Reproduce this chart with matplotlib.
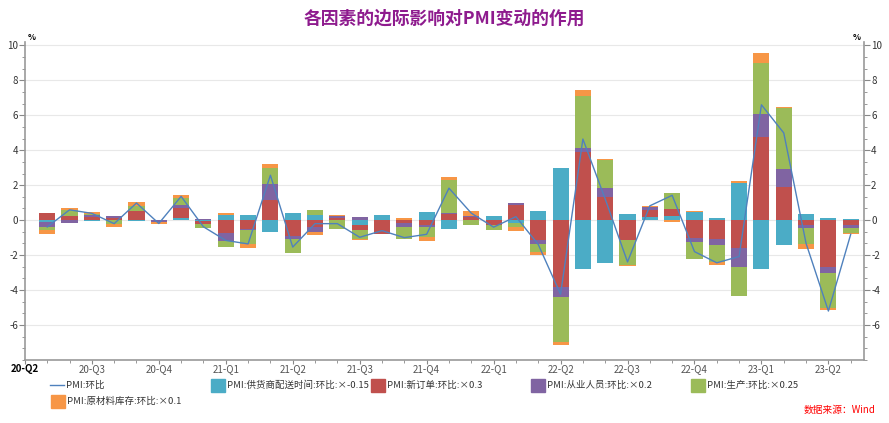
import matplotlib
matplotlib.use('Agg')
import matplotlib.pyplot as plt
import numpy as np
from matplotlib.patches import Rectangle
from matplotlib.lines import Line2D
from matplotlib.ticker import MultipleLocator

plt.rcParams['font.family'] = ['Noto Sans CJK SC', 'DejaVu Sans']
plt.rcParams['axes.unicode_minus'] = False

# months May-2020 .. May-2023 (index 1 = 2020-05, 0 = 2020-04)
months = np.arange(1, 38)
quarter_labels = ['20-Q2', '20-Q3', '20-Q4', '21-Q1', '21-Q2', '21-Q3', '21-Q4',
                  '22-Q1', '22-Q2', '22-Q3', '22-Q4', '23-Q1', '23-Q2']

pmi_mom = [-0.39, 0.59, 0.39, -0.2, 0.98, -0.19, 1.36, -0.38, -1.16, -1.36, 2.57, -1.54,
           -0.2, -0.2, -0.98, -0.6, -1.0, -0.81, 1.83, 0.4, -0.4, 0.2, -1.39, -4.24,
           4.64, 1.21, -2.39, 0.82, 1.42, -1.8, -2.44, -2.08, 6.6, 4.99, -1.33, -5.2, -0.81]

supplier = [-0.08, 0, -0.05, 0, -0.06, 0, 0.11, -0.05, 0.29, 0.29, -0.67, 0.4,
            0.29, 0, -0.25, 0.27, 0, 0.46, -0.51, 0, 0.23, -0.15, 0.51, 2.97,
            -2.8, -2.46, 0.34, 0.2, 0.23, 0.46, 0.11, 2.11, -2.8, -1.4, 0.34, 0.1, 0.05]
new_orders = [0.4, 0.25, 0.2, 0.15, 0.51, 0.03, 0.61, -0.17, -0.76, -0.48, 1.18, -0.91,
              -0.42, 0.12, -0.33, -0.78, -0.15, -0.29, 0.36, 0.2, -0.29, 0.86, -1.14, -3.85,
              3.9, 1.31, -1.14, 0.4, 0.4, -1.03, -1.09, -1.6, 4.74, 1.9, -0.3, -2.7, -0.29]
employment = [-0.3, -0.15, 0.1, 0.08, 0, -0.08, 0.14, 0.07, -0.44, -0.1, 0.88, -0.17,
              -0.25, 0.1, 0.17, 0, -0.23, -0.1, 0.06, 0.05, 0, 0.13, -0.21, -0.55,
              0.21, 0.51, 0, 0.17, 0, -0.23, -0.34, -1.09, 1.31, 1.03, -0.15, -0.32, -0.17]
production = [-0.2, 0.32, 0.08, -0.21, 0.3, -0.05, 0.42, -0.23, -0.34, -0.76, 0.95, -0.78,
              0.28, -0.5, -0.48, 0.04, -0.7, -0.6, 1.88, -0.3, -0.29, -0.23, -0.46, -2.57,
              2.97, 1.6, -1.43, 0, 0.91, -0.97, -0.99, -1.66, 2.97, 3.49, -0.91, -2.0, -0.27]
raw_inventory = [-0.2, 0.12, 0.06, -0.19, 0.22, -0.08, 0.15, 0, 0.11, -0.27, 0.19, 0,
                 -0.19, 0.05, -0.05, 0, 0.11, -0.23, 0.16, 0.3, 0, -0.23, -0.19, -0.17,
                 0.34, 0.06, -0.06, 0.05, -0.11, 0.06, -0.15, 0.11, 0.57, 0.06, -0.3, -0.11, -0.06]

series = [
    (supplier, '#4BACC6', 'PMI:供货商配送时间:环比:×-0.15'),
    (new_orders, '#C0504D', 'PMI:新订单:环比:×0.3'),
    (employment, '#8064A2', 'PMI:从业人员:环比:×0.2'),
    (production, '#9BBB59', 'PMI:生产:环比:×0.25'),
    (raw_inventory, '#F79646', 'PMI:原材料库存:环比:×0.1'),
]
line_color = '#4F81BD'

W, H = 889, 423
fig = plt.figure(figsize=(W / 100, H / 100), dpi=100)
ax = fig.add_axes([0.028, 0.149, 0.944, 0.752])

pos_base = np.zeros(len(months))
neg_base = np.zeros(len(months))
for vals, color, label in series:
    v = np.array(vals, dtype=float)
    bottom = np.where(v >= 0, pos_base, neg_base)
    ax.bar(months, v, bottom=bottom, width=0.72, color=color, zorder=2)
    pos_base = pos_base + np.where(v >= 0, v, 0)
    neg_base = neg_base + np.where(v < 0, v, 0)

ax.plot(months, pmi_mom, color=line_color, lw=1.0, zorder=3)

ax.set_xlim(0, 37.6)
ax.set_ylim(-8, 10.2)
ax.set_yticks(np.arange(-6, 11, 2))
ax.yaxis.set_minor_locator(MultipleLocator(2 / 3))
ax.grid(axis='y', which='major', color='#E8E8E8', lw=0.8, zorder=0)

ax.set_xticks(np.arange(0, 37, 3))
ax.set_xticklabels(quarter_labels)
ax.set_xticks(np.arange(0, 38, 1), minor=True)

ax.tick_params(axis='y', which='both', left=True, right=True, labelleft=True,
               labelright=True, direction='out', colors='#888888', labelcolor='#333333',
               labelsize=7, pad=1)
ax.tick_params(axis='y', which='major', length=4)
ax.tick_params(axis='y', which='minor', length=2)
ax.tick_params(axis='x', which='major', length=3, colors='#888888', labelcolor='#555555',
               labelsize=7, pad=0)
ax.tick_params(axis='x', which='minor', length=2, colors='#888888')
first = ax.get_xticklabels()[0]
first.set_fontweight('bold')
first.set_color('black')

for s in ['left', 'right', 'bottom']:
    ax.spines[s].set_color('#999999')
    ax.spines[s].set_linewidth(1.2)
ax.spines['top'].set_visible(False)

ax.text(0.004, 1.0, '%', transform=ax.transAxes, fontsize=6, fontweight='bold',
        ha='left', va='bottom')
ax.text(0.996, 1.0, '%', transform=ax.transAxes, fontsize=6, fontweight='bold',
        ha='right', va='bottom')

fig.text(0.5, 0.957, '各因素的边际影响对PMI变动的作用', ha='center', va='center',
         fontsize=12.8, fontweight='bold', color='#8E1B8E')

# legend laid out in fixed-width slots, like the original
slots = [(50, 385, 'line', line_color, 'PMI:环比')]
for k, (_, c, l) in enumerate(series[:4]):
    slots.append((211 + 160 * k, 385, 'box', c, l))
slots.append((51, 401, 'box', series[4][1], series[4][2]))
for x0, yc, kind, c, l in slots:
    if kind == 'line':
        fig.add_artist(Line2D([x0 / W, (x0 + 14) / W], [1 - yc / H] * 2,
                              color=c, lw=1.0, transform=fig.transFigure))
    else:
        fig.add_artist(Rectangle((x0 / W, 1 - (yc + 6.5) / H), 14 / W, 13 / H,
                                 color=c, transform=fig.transFigure))
    fig.text((x0 + 16) / W, 1 - yc / H, l, ha='left', va='center', fontsize=6.8,
             color='#333333')

fig.text(0.985, 0.02, '数据来源：Wind', ha='right', va='bottom', fontsize=7,
         color='#FF0000', style='italic')

fig.savefig('out.png', dpi=100)
